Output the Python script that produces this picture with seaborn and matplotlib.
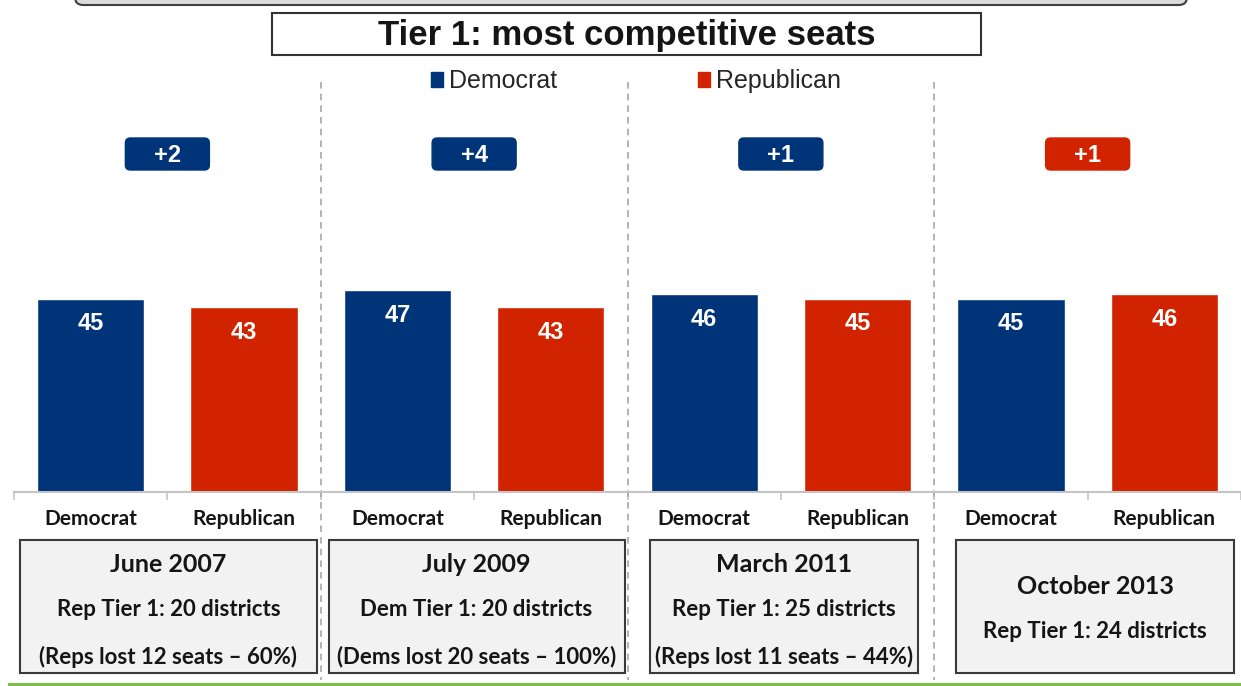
import matplotlib
matplotlib.use('Agg')
import matplotlib.pyplot as plt
import seaborn as sns
import pandas as pd
import numpy as np
from matplotlib.patches import FancyBboxPatch, Rectangle, Patch
from matplotlib.transforms import IdentityTransform, blended_transform_factory
from matplotlib.lines import Line2D

# ---------------- data ----------------
periods = ["June 2007", "July 2009", "March 2011", "October 2013"]
parties = ["Democrat", "Republican"]
dem_values = [45, 47, 46, 45]
rep_values = [43, 43, 45, 46]
tier_lines = ["Rep Tier 1: 20 districts", "Dem Tier 1: 20 districts",
              "Rep Tier 1: 25 districts", "Rep Tier 1: 24 districts"]
loss_lines = ["(Reps lost 12 seats \u2013 60%)", "(Dems lost 20 seats \u2013 100%)",
              "(Reps lost 11 seats \u2013 44%)", ""]
title = "Tier 1: most competitive seats"

DEM = '#003478'
REP = '#d22300'
BOXFONT = ['Lato', 'DejaVu Sans']
TXT = '#151515'

sns.set_theme(style='white')
plt.rcParams['font.family'] = ['Liberation Sans', 'DejaVu Sans']

rows = []
for p, d, r in zip(periods, dem_values, rep_values):
    rows.append({'slot': f'{p} D', 'party': 'Democrat', 'value': d})
    rows.append({'slot': f'{p} R', 'party': 'Republican', 'value': r})
df = pd.DataFrame(rows)

W, H = 1241, 686
fig = plt.figure(figsize=(W / 100, H / 100), dpi=100)
ax = fig.add_axes([14 / W, (H - 492) / H, (W - 14) / W, (492 - 130) / H])
sns.barplot(data=df, x='slot', y='value', hue='party',
            palette={'Democrat': DEM, 'Republican': REP},
            dodge=False, width=0.7, saturation=1, legend=False, ax=ax)
ax.set_xlim(-0.5, -0.5 + (W - 14) / 154.4)
ax.set_ylim(0, (492 - 130) / 4.3)

# value labels
for i, v in enumerate(df['value']):
    ax.text(i, v - 5.9, f'{v}', ha='center', va='center', color='white',
            fontsize=17, fontweight='bold')

# axes styling
for s in ['left', 'top', 'right']:
    ax.spines[s].set_visible(False)
ax.spines['bottom'].set_color('#c4c4c4')
ax.spines['bottom'].set_linewidth(1.5)
ax.set_yticks([])
ax.set_xlabel('')
ax.set_ylabel('')
ax.set_xticks(range(len(df)))
ax.set_xticklabels(list(df['party']), fontsize=15, fontweight='bold',
                   family=BOXFONT, color=TXT)
ax.tick_params(axis='x', which='major', length=0, pad=12)
ax.set_xticks(np.arange(-0.5, len(df) + 0.5, 1), minor=True)
ax.tick_params(axis='x', which='minor', bottom=True, length=6, width=1.2,
               color='#c4c4c4', direction='out')

# group separators (dashed)
btr = blended_transform_factory(ax.transData, fig.transFigure)
for k in range(1, len(periods)):
    xs = 2 * k - 0.5
    ax.add_line(Line2D([xs, xs], [(H - 82) / H, 6 / H], transform=btr,
                       color='#a8a8a8', lw=1.2, ls=(0, (4, 3)), clip_on=False))

# difference badges
fig.canvas.draw()
for k, (d, r) in enumerate(zip(dem_values, rep_values)):
    diff = d - r
    col = DEM if diff > 0 else REP
    xc = ax.transData.transform((2 * k + 0.5, 0))[0]
    badge = FancyBboxPatch((xc - 42, H - 170), 84, 32,
                           boxstyle='round,pad=0,rounding_size=5',
                           transform=IdentityTransform(), fc=col, ec=col)
    fig.add_artist(badge)
    fig.text(xc / W, (H - 155) / H, f'+{abs(diff)}', ha='center', va='center',
             color='white', fontsize=17, fontweight='bold')

# lower info boxes
insets = [(6, 4), (8, 3), (22, 16), (22, 7)]
for k, p in enumerate(periods):
    x0 = ax.transData.transform((2 * k - 0.5, 0))[0] + insets[k][0]
    x1 = ax.transData.transform((2 * k + 1.5, 0))[0] - insets[k][1]
    fig.add_artist(Rectangle((x0, 13), x1 - x0, 133, transform=IdentityTransform(),
                             fc='#f2f2f2', ec='#3a3a3a', lw=1.5))
    xc = (x0 + x1) / 2 / W
    if loss_lines[k]:
        ys = [565, 610, 657]
        lines = [p, tier_lines[k], loss_lines[k]]
    else:
        ys = [587, 632]
        lines = [p, tier_lines[k]]
    for j, (yy, txt) in enumerate(zip(ys, lines)):
        fig.text(xc, (H - yy) / H, txt, ha='center', va='center',
                 fontsize=18 if j == 0 else 16, fontweight='bold',
                 family=BOXFONT, color=TXT)

# legend
handles = [Patch(color=DEM), Patch(color=REP)]
fig.legend(handles, parties, ncol=2, loc='center', bbox_to_anchor=(636 / W, (H - 81) / H),
           frameon=False, handlelength=0.5, handleheight=0.55, handletextpad=0.25,
           columnspacing=5.6, prop={'size': 18})

# title box
fig.add_artist(Rectangle((272, H - 55), 709, 42, transform=IdentityTransform(),
                         fc='white', ec='#333333', lw=1.5))
fig.text(627 / W, (H - 35) / H, title, ha='center', va='center', fontsize=25,
         fontweight='bold', color=TXT)

# partial box at the very top
fig.add_artist(FancyBboxPatch((75, H - 5), 1112, 40, boxstyle='round,pad=0,rounding_size=8',
                              transform=IdentityTransform(), fc='#dcdcdc', ec='#404040', lw=1.5))

# green rule at the bottom
fig.add_artist(Rectangle((8, 0), W, 3, transform=IdentityTransform(),
                         fc='#7cbf4a', ec='none'))

fig.savefig('out.png', dpi=100)
